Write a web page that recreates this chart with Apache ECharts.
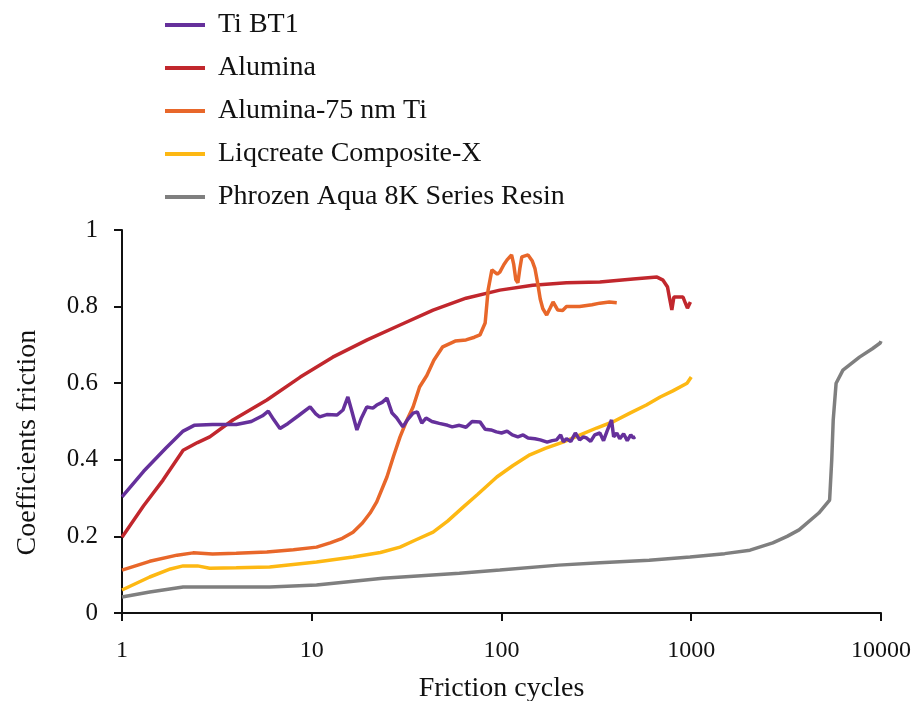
<!DOCTYPE html>
<html>
<head>
<meta charset="utf-8">
<script src="https://cdn.jsdelivr.net/npm/echarts@6/dist/echarts.min.js"></script>
<style>
  html, body { margin: 0; padding: 0; background: #fff; }
  #chart { width: 922px; height: 701px; }
</style>
</head>
<body>
<div id="chart"></div>
<script>
// values: [friction cycles, coefficient of friction]
const seriesNames = ['Ti BT1', 'Alumina', 'Alumina-75 nm Ti', 'Liqcreate Composite-X', 'Phrozen Aqua 8K Series Resin']
const xTicks = [1, 10, 100, 1000, 10000]
const yTicks = [0, 0.2, 0.4, 0.6, 0.8, 1]

const tiBt1 = [
  [1, 0.303], [1.3, 0.37], [1.7, 0.43], [2.1, 0.475], [2.4, 0.49], [3, 0.492], [4, 0.492],
  [4.8, 0.5], [5.5, 0.515], [5.9, 0.527], [6.3, 0.505], [6.8, 0.482], [7.5, 0.495], [8.5, 0.515],
  [9.8, 0.538], [10.5, 0.52], [11, 0.512], [12, 0.518], [13.6, 0.517], [14.6, 0.53], [15.5, 0.564],
  [16.2, 0.53], [17.3, 0.478], [18.3, 0.51], [19.5, 0.538], [21, 0.535], [22, 0.543], [23.5, 0.55],
  [24.9, 0.561], [26.5, 0.522], [28, 0.51], [30.2, 0.486], [32, 0.505], [34.2, 0.522], [36, 0.525],
  [38, 0.496], [40, 0.509], [43, 0.5], [47, 0.495], [52, 0.49], [55, 0.486], [60, 0.49], [65, 0.485],
  [70, 0.5], [77, 0.499], [82, 0.48], [88, 0.478], [94, 0.473], [100, 0.47], [107, 0.475], [114, 0.465],
  [122, 0.46], [130, 0.465], [138, 0.457], [150, 0.455], [160, 0.452], [174, 0.446], [185, 0.45],
  [195, 0.452], [205, 0.465], [212, 0.447], [220, 0.455], [232, 0.448], [245, 0.47], [258, 0.452],
  [270, 0.46], [280, 0.457], [295, 0.448], [310, 0.465], [330, 0.47], [345, 0.45], [360, 0.475],
  [380, 0.504], [390, 0.46], [405, 0.47], [420, 0.455], [440, 0.468], [460, 0.45], [480, 0.465],
  [495, 0.457], [507, 0.46]
]
const alumina = [
  [1, 0.198], [1.3, 0.28], [1.645, 0.347], [2.1, 0.425], [2.5, 0.445], [2.9, 0.46], [3.84, 0.504],
  [5.8, 0.556], [8.7, 0.616], [12.9, 0.668], [19.6, 0.713], [29.2, 0.752], [43.6, 0.791], [65, 0.822],
  [98, 0.843], [146, 0.856], [220, 0.862], [330, 0.864], [494, 0.872], [660, 0.877], [710, 0.869],
  [750, 0.851], [770, 0.82], [790, 0.791], [810, 0.825], [905, 0.825], [930, 0.81], [955, 0.796], [990, 0.812]
]
const alumina75 = [
  [1, 0.112], [1.4, 0.135], [1.95, 0.151], [2.37, 0.157], [3, 0.154], [4, 0.156], [5.8, 0.159],
  [8, 0.165], [10.6, 0.172], [12.5, 0.183], [14.5, 0.195], [16.5, 0.211], [18.5, 0.235], [20.3, 0.261],
  [22, 0.29], [24.9, 0.355], [27, 0.41], [29.2, 0.46], [31.5, 0.5], [34.2, 0.538], [37, 0.59],
  [40.4, 0.62], [44, 0.66], [49, 0.695], [57, 0.71], [65, 0.713], [72, 0.72], [77, 0.726], [82, 0.757],
  [85, 0.843], [89, 0.896], [95, 0.885], [98, 0.89], [103, 0.91], [107, 0.922], [113, 0.935],
  [116, 0.91], [119, 0.87], [122, 0.862], [125, 0.9], [128, 0.93], [138, 0.935], [145, 0.92],
  [150, 0.9], [155, 0.862], [160, 0.82], [165, 0.795], [173, 0.778], [180, 0.795], [187, 0.812],
  [198, 0.791], [210, 0.79], [220, 0.8], [258, 0.8], [300, 0.805], [330, 0.809], [370, 0.812], [405, 0.81]
]
const liqcreate = [
  [1, 0.06], [1.4, 0.094], [1.8, 0.115], [2.1, 0.123], [2.5, 0.123], [2.9, 0.117], [4, 0.118],
  [6, 0.12], [10.6, 0.133], [16.5, 0.146], [23, 0.158], [29.2, 0.172], [35, 0.19], [43.6, 0.211],
  [52, 0.24], [63, 0.277], [75, 0.31], [94.5, 0.355], [115, 0.385], [141, 0.413], [170, 0.43],
  [211, 0.446], [260, 0.465], [317, 0.483], [390, 0.5], [475, 0.522], [580, 0.543], [686, 0.564],
  [800, 0.58], [950, 0.6], [1000, 0.616]
]
const phrozen = [
  [1, 0.042], [1.4, 0.055], [2.1, 0.068], [4, 0.068], [6, 0.068], [10.6, 0.073], [23.7, 0.091],
  [60, 0.104], [98, 0.112], [200, 0.125], [330, 0.131], [600, 0.138], [985, 0.146], [1500, 0.155],
  [2040, 0.164], [2690, 0.183], [3200, 0.2], [3700, 0.217], [4700, 0.261], [5360, 0.295], [5500, 0.4],
  [5600, 0.504], [5800, 0.6], [6300, 0.634], [7700, 0.668], [9000, 0.69], [9900, 0.705], [10000, 0.71]
]

const serif = 'Liberation Serif'
const colors = ['#65309b', '#c1272d', '#e8672a', '#fdb813', '#7f7f7f']
const seriesData = [tiBt1, alumina, alumina75, liqcreate, phrozen]
// drawing order: gray at the back, purple on top
const zOrder = [6, 3, 4, 2, 1]

const chart = echarts.init(document.getElementById('chart'))
chart.setOption({
  backgroundColor: '#fff',
  animation: false,
  color: colors,
  legend: {
    orient: 'vertical',
    left: 160,
    top: 6,
    itemWidth: 40,
    itemHeight: 4,
    itemGap: 15,
    icon: 'rect',
    data: seriesNames,
    textStyle: { fontFamily: serif, fontSize: 28, color: '#111', padding: [0, 0, 0, 8] },
  },
  grid: { left: 122, right: 41, top: 230, bottom: 88, outerBoundsMode: 'none' },
  xAxis: {
    type: 'log',
    logBase: 10,
    min: xTicks[0],
    max: xTicks[xTicks.length - 1],
    name: 'Friction cycles',
    nameLocation: 'middle',
    nameGap: 62,
    nameTextStyle: { fontFamily: serif, fontSize: 28, color: '#111' },
    axisLine: { lineStyle: { color: '#111', width: 2 } },
    axisTick: { length: 8, lineStyle: { color: '#111', width: 2 } },
    axisLabel: {
      fontFamily: serif, fontSize: 24, color: '#111', margin: 26,
      formatter: (v) => String(Math.round(v)),
    },
    splitLine: { show: false },
    minorTick: { show: false },
  },
  yAxis: {
    type: 'value',
    min: yTicks[0],
    max: yTicks[yTicks.length - 1],
    interval: 0.2,
    name: 'Coefficients friction',
    nameLocation: 'middle',
    nameGap: 80,
    nameTextStyle: { fontFamily: serif, fontSize: 28, color: '#111', padding: [0, 42, 0, 0] },
    axisLine: { show: true, lineStyle: { color: '#111', width: 2 } },
    axisTick: { show: true, length: 8, lineStyle: { color: '#111', width: 2 } },
    axisLabel: { fontFamily: serif, fontSize: 25, color: '#111', margin: 24 },
    splitLine: { show: false },
  },
  series: seriesNames.map((name, i) => ({
    name,
    type: 'line',
    data: seriesData[i],
    symbol: 'none',
    z: zOrder[i],
    lineStyle: { width: 3.5, color: colors[i] },
  })),
})
</script>
</body>
</html>
